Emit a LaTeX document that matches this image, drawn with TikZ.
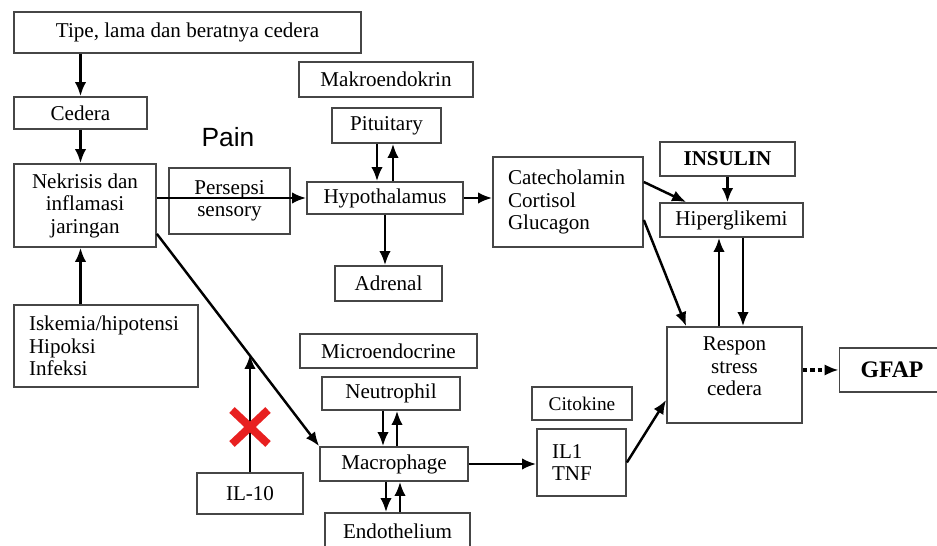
\documentclass[tikz,border=0pt]{standalone}
\usepackage{fontspec}
\setmainfont{Liberation Serif}
\newfontfamily\painfont{Liberation Sans}
\usetikzlibrary{arrows.meta, calc, positioning}
\definecolor{boxgray}{RGB}{70,70,70}
\definecolor{crossred}{RGB}{232,32,32}

\begin{document}
\begin{tikzpicture}[x=0.02cm, y=-0.02cm,
    box/.style={draw=boxgray, line width=1pt, align=center, inner sep=2pt, font=\fontsize{12}{12.8}\selectfont},
    lbox/.style={box, align=left, inner xsep=0.3cm},
    arr/.style={-{Latex[length=8pt, width=6.5pt]}, line width=1.4pt},
    ]
    \useasboundingbox (0,0) rectangle (937,546);

    % Left column
    \node[box, minimum width=6.94cm, minimum height=0.82cm] (tipe) at (187.5,32.5) {Tipe, lama dan beratnya cedera};
    \node[box, minimum width=2.66cm, minimum height=0.64cm] (cedera) at (80.5,113) {Cedera};
    \node[box, minimum width=2.84cm, minimum height=1.66cm] (nekrisis) at (85,205.5) {Nekrisis dan\\inflamasi\\jaringan};
    \node[lbox, text width=3.08cm, minimum height=1.64cm] (iskemia) at (106,346) {Iskemia/hipotensi\\Hipoksi\\Infeksi};
    \node[box, minimum width=2.12cm, minimum height=0.82cm] (il10) at (250,493.5) {IL-10};

    % Pain
    \node[font=\painfont\fontsize{15}{17}\selectfont] (pain) at (228,137) {Pain};
    \node[box, minimum width=2.42cm, minimum height=1.32cm] (persepsi) at (229.5,201) {Persepsi\\sensory};

    % Makroendokrin
    \node[box, minimum width=3.48cm, minimum height=0.70cm] (makro) at (386,79.5) {Makroendokrin};
    \node[box, minimum width=2.18cm, minimum height=0.70cm] (pit) at (386.5,125.5) {Pituitary};
    \node[box, minimum width=3.12cm, minimum height=0.64cm] (hyp) at (385,198) {Hypothalamus};
    \node[box, minimum width=2.14cm, minimum height=0.70cm] (adrenal) at (388.5,283.5) {Adrenal};

    % Microendocrine
    \node[box, minimum width=3.54cm, minimum height=0.68cm] (micro) at (388.5,351) {Microendocrine};
    \node[box, minimum width=2.76cm, minimum height=0.66cm] (neutro) at (391,393.5) {Neutrophil};
    \node[box, minimum width=2.96cm, minimum height=0.68cm] (macro) at (394,464) {Macrophage};
    \node[box, minimum width=2.90cm, minimum height=0.74cm] (endo) at (397.5,531.5) {Endothelium};

    % Hormones and cytokines
    \node[lbox, text width=2.4cm, minimum height=1.80cm] (catech) at (568,202) {Catecholamin\\Cortisol\\Glucagon};
    \node[box, minimum width=2.00cm, minimum height=0.66cm, font=\fontsize{11}{12}\selectfont] (citokine) at (582,403.5) {Citokine};
    \node[lbox, text width=1.18cm, minimum height=1.34cm] (il1) at (581.5,462.5) {IL1\\TNF};

    % Right column
    \node[box, minimum width=2.70cm, minimum height=0.68cm, font=\bfseries\fontsize{12}{12.8}\selectfont] (insulin) at (727.5,159) {INSULIN};
    \node[box, minimum width=2.86cm, minimum height=0.68cm] (hiper) at (731.5,220) {Hiperglikemi};
    \node[box, minimum width=2.70cm, minimum height=1.92cm, text depth=0.35cm] (respon) at (734.5,375) {Respon\\stress\\cedera};
    \node[box, minimum width=2.10cm, minimum height=0.88cm, font=\bfseries\fontsize{13.5}{15}\selectfont] (gfap) at (892,370) {GFAP};

    % Connectors on the left
    \draw[arr] (cedera.north |- tipe.south) -- (cedera.north);
    \draw[arr] (cedera.south) -- (cedera.south |- nekrisis.north);
    \draw[arr] (iskemia.north -| cedera.south) -- (nekrisis.south -| cedera.south);
    \draw[arr] (nekrisis.east |- hyp.west) -- (hyp.west);
    \draw[arr] ([yshift=0.28cm]nekrisis.south east) -- coordinate[pos=0.57] (hit) (macro.north west);

    % IL-10 blocked
    \draw[arr] (il10.north) -- (il10.north |- hit);
    \coordinate (cross) at (250,427);
    \draw[crossred, line width=4.5pt] ($(cross)+(-18,-17)$) -- ($(cross)+(18,17)$);
    \draw[crossred, line width=4.5pt] ($(cross)+(-18,17)$) -- ($(cross)+(18,-17)$);

    % Makroendokrin axis
    \draw[arr] ([xshift=-0.19cm]pit.south) -- ([xshift=-0.19cm]pit.south |- hyp.north);
    \draw[arr] ([xshift=0.13cm]pit.south |- hyp.north) -- ([xshift=0.13cm]pit.south);
    \draw[arr] (hyp.south) -- (hyp.south |- adrenal.north);
    \draw[arr] (hyp.east) -- (hyp.east -| catech.west);

    % Microendocrine axis
    \draw[arr] ([xshift=-0.16cm]neutro.south) -- ([xshift=-0.16cm]neutro.south |- macro.north);
    \draw[arr] ([xshift=0.12cm]neutro.south |- macro.north) -- ([xshift=0.12cm]neutro.south);
    \draw[arr] ([xshift=-0.16cm]macro.south) -- ([xshift=-0.16cm]macro.south |- endo.north);
    \draw[arr] ([xshift=0.12cm]macro.south |- endo.north) -- ([xshift=0.12cm]macro.south);
    \draw[arr] (macro.east) -- (macro.east -| il1.west);

    % Into the stress response
    \draw[arr] ([yshift=0.4cm]catech.east) -- ([xshift=0.54cm]hiper.north west);
    \draw[arr] ([yshift=-0.36cm]catech.east) -- ([xshift=0.4cm]respon.north west);
    \draw[arr] (insulin.south) -- (insulin.south |- hiper.north);
    \draw[arr] ([xshift=-0.31cm]respon.north) -- ([xshift=-0.31cm]respon.north |- hiper.south);
    \draw[arr] ([xshift=0.17cm]respon.north |- hiper.south) -- ([xshift=0.17cm]respon.north);
    \draw[arr] (il1.east) -- ([yshift=-0.5cm]respon.west);
    \draw[arr, line width=2.6pt, dash pattern=on 2.6pt off 1.6pt] (respon.east |- gfap.west) -- (gfap.west);
\end{tikzpicture}
\end{document}
